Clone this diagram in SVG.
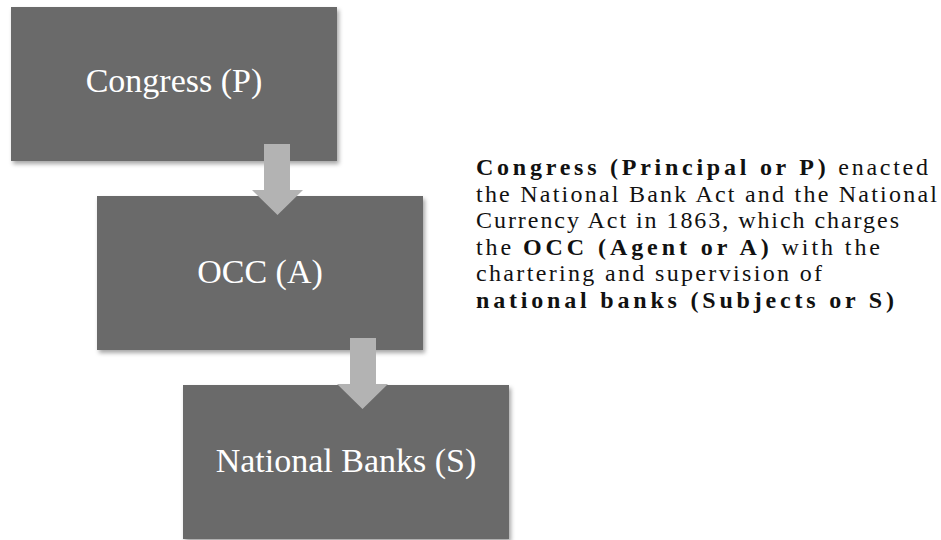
<svg xmlns="http://www.w3.org/2000/svg" width="941" height="540" viewBox="0 0 941 540">
<defs>
<filter id="sh" x="-10%" y="-10%" width="120%" height="130%">
<feDropShadow dx="2" dy="3" stdDeviation="2" flood-color="#000" flood-opacity="0.35"/>
</filter>
</defs>
<style>
.box{fill:#6a6a6a;filter:url(#sh)}
.bt{font-family:"Liberation Serif",serif;font-size:34px;fill:#fff;text-anchor:middle}
.arr{fill:#b3b3b3}
.tx{font-family:"Liberation Serif",serif;font-size:24px;fill:#111}
.b{font-weight:bold;letter-spacing:1px}
</style>
<rect width="941" height="540" fill="#fff"/>
<g id="congress">
<rect class="box" x="11" y="7" width="326" height="154"/>
<text class="bt" x="174" y="92">Congress (P)</text>
</g>
<g id="occ">
<rect class="box" x="97" y="196" width="326" height="154"/>
<text class="bt" x="260" y="283">OCC (A)</text>
</g>
<g id="banks">
<rect class="box" x="183" y="385" width="326" height="154"/>
<text class="bt" x="346" y="472">National Banks (S)</text>
</g>
<g id="connectors">
<polygon class="arr" points="264,144 290,144 290,190 303,190 277.5,215 252,190 264,190"/>
<polygon class="arr" points="350,338 376,338 376,384 388,384 362.5,409 337,384 350,384"/>
</g>
<g id="description">
<text class="tx" x="476" y="175" textLength="452"><tspan class="b">Congress (Principal or P)</tspan> enacted</text>
<text class="tx" x="476" y="201.5" textLength="461">the National Bank Act and the National</text>
<text class="tx" x="476" y="228" textLength="423">Currency Act in 1863, which charges</text>
<text class="tx" x="476" y="254.5" textLength="404">the <tspan class="b">OCC (Agent or A)</tspan> with the</text>
<text class="tx" x="476" y="281" textLength="346">chartering and supervision of</text>
<text class="tx" x="476" y="307.5" textLength="419"><tspan class="b">national banks (Subjects or S)</tspan></text>
</g>
</svg>
